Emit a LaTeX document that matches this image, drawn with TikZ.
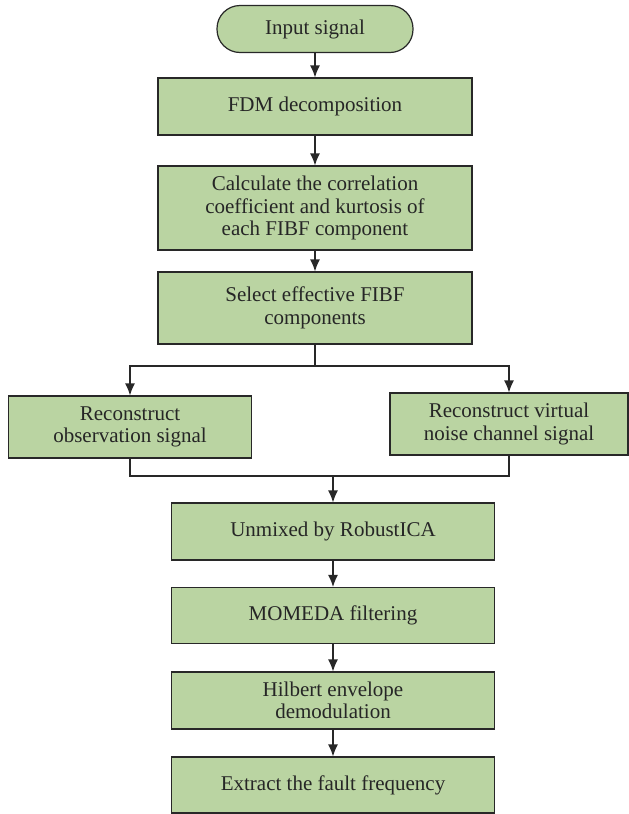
\documentclass[tikz,border=0pt]{standalone}
\usepackage{fontspec}
\setmainfont{Liberation Serif}
\usetikzlibrary{arrows.meta}
\definecolor{boxgreen}{RGB}{186,212,162}
\definecolor{linegray}{RGB}{40,40,40}
\begin{document}
\begin{tikzpicture}[x=1pt,y=-1pt,
  box/.style={draw=linegray,line width=1.2pt,fill=boxgreen,align=center,
    inner sep=0pt,font=\fontsize{21}{22.5}\selectfont,text=black!85},
  arr/.style={-{Latex[length=12pt,width=10pt]},line width=1.2pt,draw=linegray},
  ln/.style={line width=1.2pt,draw=linegray}]
\useasboundingbox (0,0) rectangle (629,814);

\node[box,rounded corners=23pt,minimum width=196pt,minimum height=47pt] (in) at (315,29) {Input signal};
\node[box,minimum width=314pt,minimum height=57pt] (fdm) at (315,106.5) {FDM decomposition};
\node[box,minimum width=314pt,minimum height=84pt] (calc) at (315,208) {Calculate the correlation\\coefficient and kurtosis of\\each FIBF component};
\node[box,minimum width=314pt,minimum height=72pt] (sel) at (315,308) {Select effective FIBF\\components};
\node[box,minimum width=243pt,minimum height=62pt] (obs) at (130,427) {Reconstruct\\observation signal};
\node[box,minimum width=238pt,minimum height=62pt] (vir) at (509,424) {Reconstruct virtual\\noise channel signal};
\node[box,minimum width=323pt,minimum height=57pt] (unm) at (333,531.5) {Unmixed by RobustICA};
\node[box,minimum width=323pt,minimum height=56pt] (mom) at (333,615.5) {MOMEDA filtering};
\node[box,minimum width=323pt,minimum height=57pt] (hil) at (333,700.5) {Hilbert envelope\\demodulation};
\node[box,minimum width=323pt,minimum height=56pt] (ext) at (333,785) {Extract the fault frequency};

\coordinate (split) at (315,366);
\coordinate (merge) at (333,476);

\draw[arr] (in) -- (fdm);
\draw[arr] (fdm) -- (calc);
\draw[arr] (calc) -- (sel);
\draw[ln] (sel.south) -- (split);
\draw[arr] (split) -| (obs.north);
\draw[arr] (split) -| (vir.north);
\draw[ln] (obs.south) |- (merge) -| (vir.south);
\draw[arr] (merge) -- (unm.north);
\draw[arr] (unm) -- (mom);
\draw[arr] (mom) -- (hil);
\draw[arr] (hil) -- (ext);
\end{tikzpicture}
\end{document}
